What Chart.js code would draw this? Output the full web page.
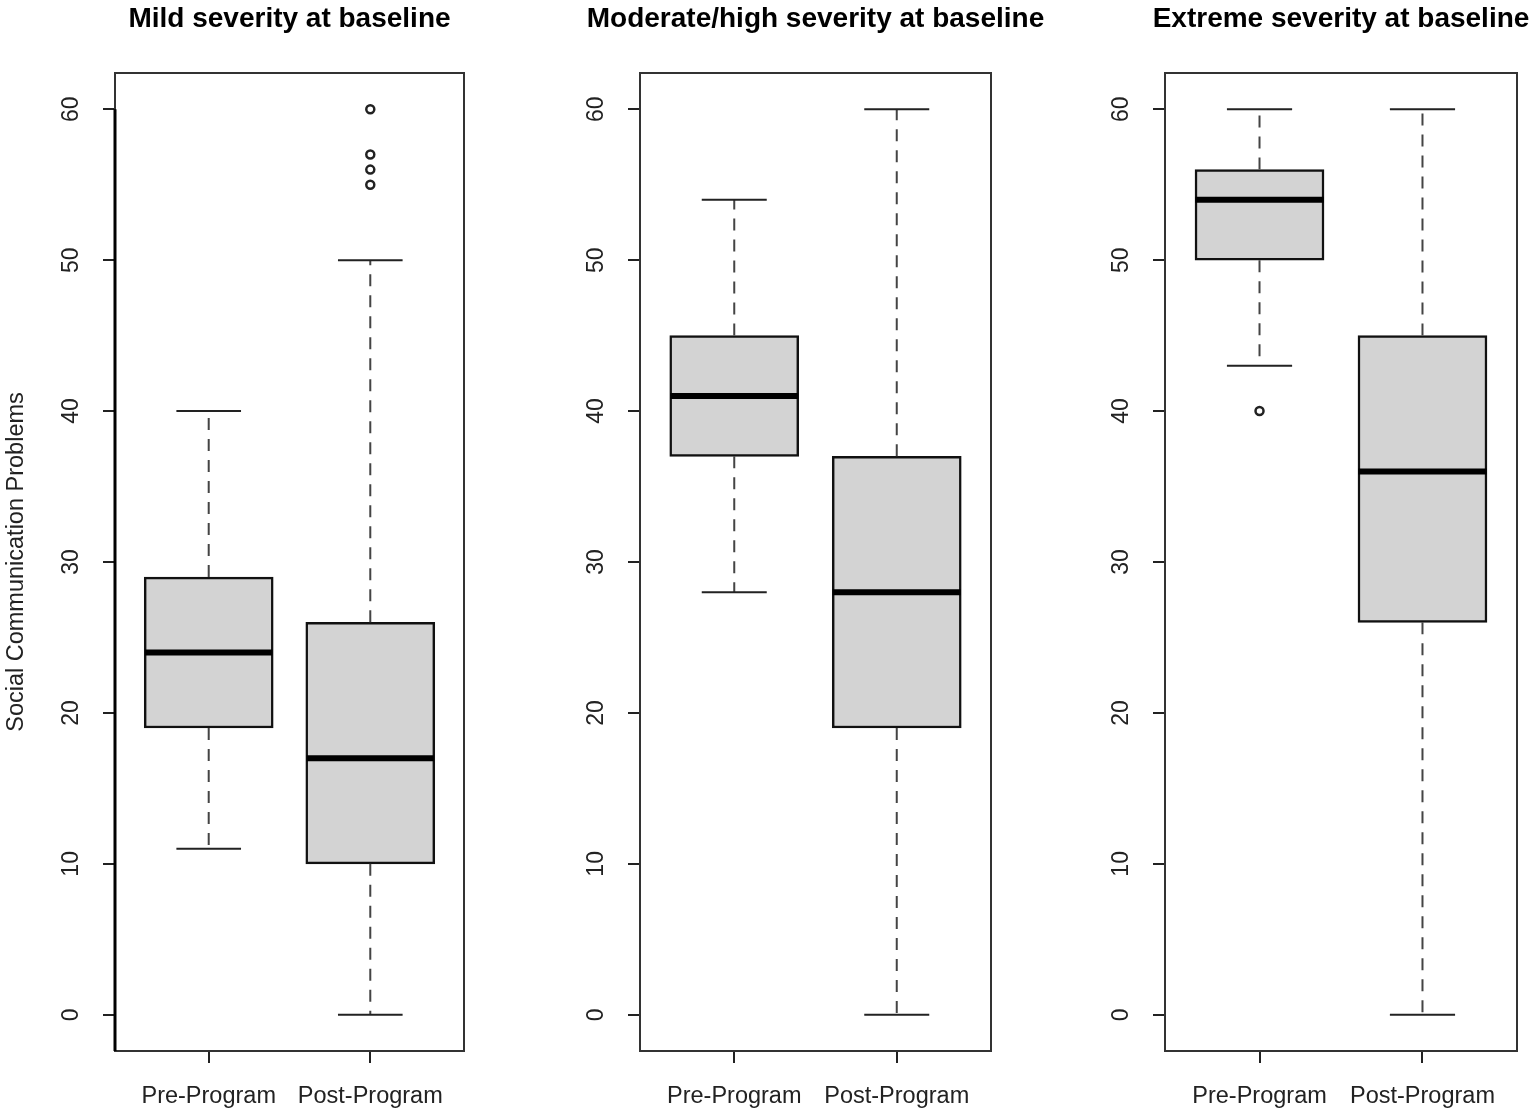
<!DOCTYPE html>
<html>
<head>
<meta charset="utf-8">
<script src="https://cdn.jsdelivr.net/npm/chart.js@4.4.1/dist/chart.umd.min.js"></script>
<style>
  body { margin: 0; background: #fff; }
  .panel { position: absolute; top: 0; height: 1116px; }
</style>
</head>
<body>
<div class="panel" style="left:0;width:490px"><canvas id="p1"></canvas></div>
<div class="panel" style="left:525px;width:540px"><canvas id="p2"></canvas></div>
<div class="panel" style="left:1050px;width:485px"><canvas id="p3"></canvas></div>
<script>
const groups = ['Pre-Program', 'Post-Program'];
const yTicks = [0, 10, 20, 30, 40, 50, 60];
const yTitle = 'Social Communication Problems';

// mild severity
const mildLow  = [11, 0];
const mildQ1   = [19, 10];
const mildMed  = [24, 17];
const mildQ3   = [29, 26];
const mildHigh = [40, 50];
const mildOut  = [[], [55, 56, 57, 60]];

// moderate/high severity
const modLow  = [28, 0];
const modQ1   = [37, 19];
const modMed  = [41, 28];
const modQ3   = [45, 37];
const modHigh = [54, 60];
const modOut  = [[], []];

// extreme severity
const extLow  = [43, 0];
const extQ1   = [50, 26];
const extMed  = [54, 36];
const extQ3   = [56, 45];
const extHigh = [60, 60];
const extOut  = [[40], []];

const FONT = '"Liberation Sans", Arial, sans-serif';

// whiskers, caps, medians, frame and the text R puts around the plot
const boxExtras = {
    id: 'boxExtras',
    afterDatasetsDraw(chart, args, o) {
        const { ctx, chartArea, scales: { x, y } } = chart;
        ctx.save();

        groups.forEach((g, i) => {
            const cx = x.getPixelForValue(i + 1);
            const capL = x.getPixelForValue(i + 1 - 0.2);
            const capR = x.getPixelForValue(i + 1 + 0.2);
            const boxL = x.getPixelForValue(i + 1 - 0.4);
            const boxR = x.getPixelForValue(i + 1 + 0.4);

            // dashed whiskers
            ctx.strokeStyle = '#444';
            ctx.lineWidth = 2;
            ctx.setLineDash([12, 9]);
            ctx.beginPath();
            ctx.moveTo(cx, y.getPixelForValue(o.q3[i]));
            ctx.lineTo(cx, y.getPixelForValue(o.high[i]));
            ctx.moveTo(cx, y.getPixelForValue(o.q1[i]));
            ctx.lineTo(cx, y.getPixelForValue(o.low[i]));
            ctx.stroke();
            ctx.setLineDash([]);

            // caps
            ctx.strokeStyle = '#222';
            ctx.beginPath();
            ctx.moveTo(capL, y.getPixelForValue(o.high[i]));
            ctx.lineTo(capR, y.getPixelForValue(o.high[i]));
            ctx.moveTo(capL, y.getPixelForValue(o.low[i]));
            ctx.lineTo(capR, y.getPixelForValue(o.low[i]));
            ctx.stroke();

            // median
            ctx.strokeStyle = '#000';
            ctx.lineWidth = 6;
            ctx.beginPath();
            ctx.moveTo(boxL + 1, y.getPixelForValue(o.med[i]));
            ctx.lineTo(boxR - 1, y.getPixelForValue(o.med[i]));
            ctx.stroke();
        });

        // plot frame
        ctx.strokeStyle = '#333';
        ctx.lineWidth = 2;
        ctx.strokeRect(chartArea.left, chartArea.top,
            chartArea.right - chartArea.left, chartArea.bottom - chartArea.top);

        if (o.axisLine) {
            ctx.strokeStyle = '#000';
            ctx.lineWidth = 3;
            ctx.beginPath();
            ctx.moveTo(chartArea.left, y.getPixelForValue(60));
            ctx.lineTo(chartArea.left, chartArea.bottom);
            ctx.stroke();
        }

        // y tick labels, rotated like R does
        ctx.fillStyle = '#222';
        ctx.font = '23px ' + FONT;
        ctx.textAlign = 'center';
        ctx.textBaseline = 'middle';
        yTicks.forEach(v => {
            ctx.save();
            ctx.translate(chartArea.left - 43, y.getPixelForValue(v));
            ctx.rotate(-Math.PI / 2);
            ctx.fillText(String(v), 0, 0);
            ctx.restore();
        });

        // title
        ctx.fillStyle = '#000';
        ctx.font = 'bold 28px ' + FONT;
        ctx.fillText(o.title, (chartArea.left + chartArea.right) / 2, 19);

        if (o.yTitle) {
            ctx.save();
            ctx.fillStyle = '#222';
            ctx.font = '23.5px ' + FONT;
            ctx.translate(17, (chartArea.top + chartArea.bottom) / 2);
            ctx.rotate(-Math.PI / 2);
            ctx.fillText(o.yTitle, 0, 0);
            ctx.restore();
        }

        ctx.restore();
    }
};

function makePanel(id, title, low, q1, med, q3, high, out, rightPad, showYTitle) {
    const boxes = groups.map((g, i) => ({ x: i + 1, y: [q1[i], q3[i]] }));
    const points = [];
    out.forEach((vals, i) => vals.forEach(v => points.push({ x: i + 1, y: v })));

    new Chart(document.getElementById(id), {
        type: 'bar',
        data: {
            datasets: [{
                type: 'bar',
                data: boxes,
                backgroundColor: '#d3d3d3',
                borderColor: '#111',
                borderWidth: 2.5,
                borderSkipped: false,
                barThickness: 129
            }, {
                type: 'scatter',
                data: points,
                pointStyle: 'circle',
                pointRadius: 4,
                borderWidth: 2.5,
                borderColor: '#222',
                backgroundColor: '#fff'
            }]
        },
        options: {
            responsive: true,
            maintainAspectRatio: false,
            animation: false,
            layout: { padding: { top: 73, right: rightPad, left: 0, bottom: 0 } },
            plugins: {
                legend: { display: false },
                tooltip: { enabled: false },
                boxExtras: {
                    title: title, low: low, q1: q1, med: med, q3: q3, high: high,
                    yTitle: showYTitle ? yTitle : null, axisLine: showYTitle
                }
            },
            scales: {
                x: {
                    type: 'linear',
                    min: 0.42,
                    max: 2.58,
                    offset: false,
                    afterBuildTicks: s => { s.ticks = groups.map((g, i) => ({ value: i + 1 })); },
                    afterFit: s => { s.height = 65; },
                    grid: { offset: false, drawOnChartArea: false, drawTicks: true, tickLength: 12, color: '#222', lineWidth: 2 },
                    border: { display: false },
                    ticks: {
                        callback: v => groups[v - 1],
                        color: '#222',
                        font: { size: 23.5, family: FONT },
                        padding: 19,
                        maxRotation: 0
                    }
                },
                y: {
                    min: -2.4,
                    max: 62.4,
                    afterBuildTicks: s => { s.ticks = yTicks.map(v => ({ value: v })); },
                    afterFit: s => { s.width = 115; },
                    grid: { drawOnChartArea: false, drawTicks: true, tickLength: 12, color: '#222', lineWidth: 2 },
                    border: { display: false },
                    ticks: { display: false }
                }
            }
        },
        plugins: [boxExtras]
    });
}

makePanel('p1', 'Mild severity at baseline', mildLow, mildQ1, mildMed, mildQ3, mildHigh, mildOut, 26, true);
makePanel('p2', 'Moderate/high severity at baseline', modLow, modQ1, modMed, modQ3, modHigh, modOut, 74, false);
makePanel('p3', 'Extreme severity at baseline', extLow, extQ1, extMed, extQ3, extHigh, extOut, 18, false);
</script>
</body>
</html>
